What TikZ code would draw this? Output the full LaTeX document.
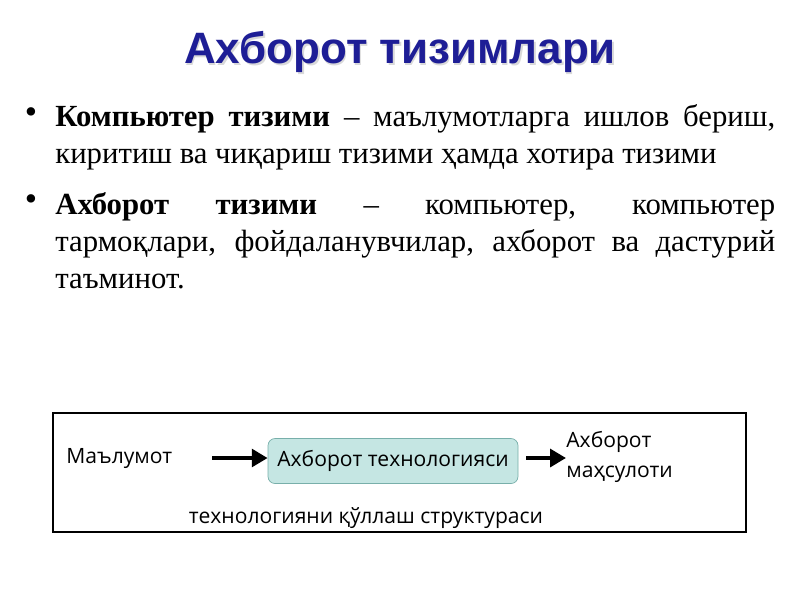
\documentclass[tikz,border=0pt]{standalone}
\usepackage{fontspec}
\setmainfont{Liberation Serif}
\newfontfamily\boxfont{Open Sans}
\newfontfamily\titlefont{Liberation Sans}
\usetikzlibrary{arrows.meta}
\definecolor{titleblue}{RGB}{30,30,150}
\definecolor{techfill}{RGB}{197,230,227}
\definecolor{techline}{RGB}{120,175,170}

\begin{document}
\begin{tikzpicture}[x=0.02cm,y=-0.02cm,
    para/.style={anchor=north west, text width=14.4cm, align=justify, font=\fontsize{17.5}{21}\selectfont, inner sep=0pt},
    lbl/.style={font=\boxfont\fontsize{12}{17.5}\selectfont, inner sep=0pt},
    flow/.style={-{Triangle[length=9pt,width=10pt]}, line width=2.2pt}]

    % Page
    \useasboundingbox (0,0) rectangle (800,600);

    % Title
    \node[font=\titlefont\bfseries\fontsize{25}{28}\selectfont, text=gray!30] at (401.5,53.5) {Ахборот тизимлари};
    \node (title) [font=\titlefont\bfseries\fontsize{25}{28}\selectfont, text=titleblue] at (400,52) {Ахборот тизимлари};

    % Bullets
    \node (b1) [font=\fontsize{20}{20}\selectfont] at (31,116) {\textbullet};
    \node (p1) [para] at (55,104) {\textbf{Компьютер тизими} – маълумотларга ишлов бериш, киритиш ва чиқариш тизими ҳамда хотира тизими};
    \node (b2) [font=\fontsize{20}{20}\selectfont] at (31,203) {\textbullet};
    \node (p2) [para] at (55,192) {\textbf{Ахборот тизими} – компьютер, компьютер\linebreak тармоқлари, фойдаланувчилар, ахборот ва дастурий\linebreak таъминот.};

    % Scheme
    \draw[line width=0.8pt] (53,413) rectangle (746,532);
    \node (tech) [lbl, draw=techline, fill=techfill, rounded corners=4pt, minimum width=250*0.02cm, minimum height=45*0.02cm] at (393,461) {Ахборот технологияси};
    \node (data) [lbl, anchor=west] at (66,458) {Маълумот};
    \node (prod) [lbl, anchor=west, align=left] at (566,457) {Ахборот\\маҳсулоти};
    \node (struct) [lbl] at (366,518) {технологияни қўллаш структураси};
    \coordinate (in) at (212,458);
    \coordinate (out) at (566,458);
    \draw[flow] (in) -- (tech.west |- in);
    \draw[flow] (tech.east |- out) ++(8,0) -- (out);
\end{tikzpicture}
\end{document}
